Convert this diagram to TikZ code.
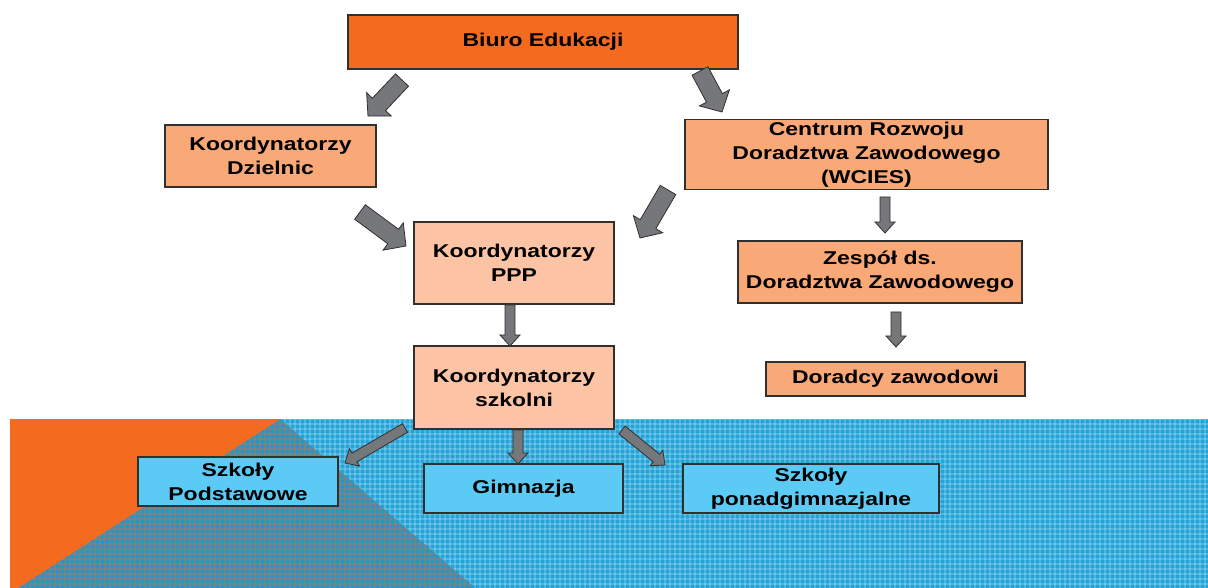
\documentclass[tikz,border=0pt]{standalone}
\usepackage{fontspec}
\setmainfont{Liberation Sans}[FakeStretch=1.24]
\usetikzlibrary{calc}
\definecolor{orangeA}{HTML}{F46B20}
\definecolor{orangeB}{HTML}{F9A877}
\definecolor{orangeC}{HTML}{FCC4A4}
\definecolor{boxblue}{HTML}{5BCBF5}
\definecolor{bgblue}{HTML}{22A4D8}
\definecolor{bgdark}{HTML}{2398C8}
\definecolor{gridbrown}{HTML}{9A7C6C}
\definecolor{arrowgray}{HTML}{76777A}
\definecolor{edge}{HTML}{303030}
\tikzset{
  box/.style={draw=edge, line width=0.9pt, align=center, inner sep=2pt,
    font=\bfseries\fontsize{13.9}{18}\selectfont, text=black},
  blockarr/.style={fill=arrowgray, draw=edge, line width=0.6pt, line join=miter}
}
% #1 tail, #2 tip, #3 half shaft, #4 half head, #5 head length
\newcommand\blockarrow[5]{%
  \coordinate (bh) at ($(#2)!#5!(#1)$);
  \draw[blockarr] ($(#1)!#3!90:(#2)$) -- ($(bh)!#3!-90:(#1)$) -- ($(bh)!#4!-90:(#1)$)
    -- (#2) -- ($(bh)!#4!90:(#1)$) -- ($(bh)!#3!90:(#1)$) -- ($(#1)!#3!-90:(#2)$) -- cycle;
}
\newcommand\bigarrow[2]{\blockarrow{#1}{#2}{6.75pt}{12.75pt}{12pt}}
\newcommand\smallarrow[2]{\blockarrow{#1}{#2}{3.75pt}{7.5pt}{8.25pt}}
\begin{document}
\begin{tikzpicture}[x=0.75pt,y=-0.75pt]
\useasboundingbox (0,0) rectangle (1208,588);
\fill[white] (0,0) rectangle (1208,588);
% background
\fill[bgblue] (10,419) rectangle (1208,588);
\begin{scope}
  \clip (10,419) rectangle (1208,588);
  \foreach \i in {0,...,240} {\draw[white, opacity=0.2, line width=1.1pt] (10+\i*5,419) -- (10+\i*5,588);}
  \foreach \j in {0,...,34} {\draw[white, opacity=0.2, line width=1.1pt] (10,419+\j*5) -- (1208,419+\j*5);}
\end{scope}
\fill[bgdark] (280,419) -- (18,588) -- (475,588) -- cycle;
\begin{scope}
  \clip (280,419) -- (18,588) -- (475,588) -- cycle;
  \foreach \i in {0,...,95} {\draw[gridbrown, opacity=0.55, line width=1.1pt] (10+\i*5,419) -- (10+\i*5,588);}
  \foreach \j in {0,...,34} {\draw[gridbrown, opacity=0.55, line width=1.1pt] (10,419+\j*5) -- (480,419+\j*5);}
\end{scope}
\fill[orangeA] (10,419) -- (280,419) -- (18,588) -- (10,588) -- cycle;
% nodes
\node[box, fill=orangeA, minimum width=390*0.75pt, minimum height=54*0.75pt] (biuro) at (543,42) {Biuro Edukacji};
\node[box, fill=orangeB, minimum width=211*0.75pt, minimum height=62*0.75pt] (dziel) at (270.5,156) {Koordynatorzy\\Dzielnic};
\node[box, fill=orangeB, minimum width=363*0.75pt, minimum height=65*0.75pt] (centrum) at (866.5,154.5) {Centrum Rozwoju\\Doradztwa Zawodowego\\(WCIES)};
\node[box, fill=orangeC, minimum width=200*0.75pt, minimum height=82*0.75pt] (ppp) at (514,263) {Koordynatorzy\\PPP};
\node[box, fill=orangeB, minimum width=284*0.75pt, minimum height=62*0.75pt] (zespol) at (880,272) {Zespół ds.\\Doradztwa Zawodowego};
\node[box, fill=orangeC, minimum width=200*0.75pt, minimum height=83*0.75pt] (szkolni) at (514,387.5) {Koordynatorzy\\szkolni};
\node[box, fill=orangeB, minimum width=259*0.75pt, minimum height=34*0.75pt] (doradcy) at (895.5,379) {Doradcy zawodowi};
\node[box, fill=boxblue, minimum width=200*0.75pt, minimum height=49*0.75pt] (podst) at (238,481.5) {Szkoły\\Podstawowe};
\node[box, fill=boxblue, minimum width=199*0.75pt, minimum height=49*0.75pt] (gimn) at (523.5,488.5) {Gimnazja};
\node[box, fill=boxblue, minimum width=256*0.75pt, minimum height=49*0.75pt] (ponad) at (811,488.5) {Szkoły\\ponadgimnazjalne};
% arrow end points
\coordinate (a1s) at (402,80);  \coordinate (a1e) at (368,116);
\coordinate (a2s) at (700,71);  \coordinate (a2e) at (722,112);
\coordinate (a3s) at (360,212); \coordinate (a3e) at (406,246);
\coordinate (a4s) at (668,190); \coordinate (a4e) at (640,238);
\coordinate (a5s) at (885,197); \coordinate (a5e) at (885,233);
\coordinate (a6s) at (896,312); \coordinate (a6e) at (896,347);
\coordinate (a7s) at (510,305); \coordinate (a7e) at (510,346);
\coordinate (a8s) at (405,428); \coordinate (a8e) at (345,463);
\coordinate (a9s) at (518,430); \coordinate (a9e) at (518,464);
\coordinate (a10s) at (622,430); \coordinate (a10e) at (665,465);
\bigarrow{a1s}{a1e}
\bigarrow{a2s}{a2e}
\bigarrow{a3s}{a3e}
\bigarrow{a4s}{a4e}
\smallarrow{a5s}{a5e}
\smallarrow{a6s}{a6e}
\smallarrow{a7s}{a7e}
\smallarrow{a8s}{a8e}
\smallarrow{a9s}{a9e}
\smallarrow{a10s}{a10e}
\end{tikzpicture}
\end{document}
